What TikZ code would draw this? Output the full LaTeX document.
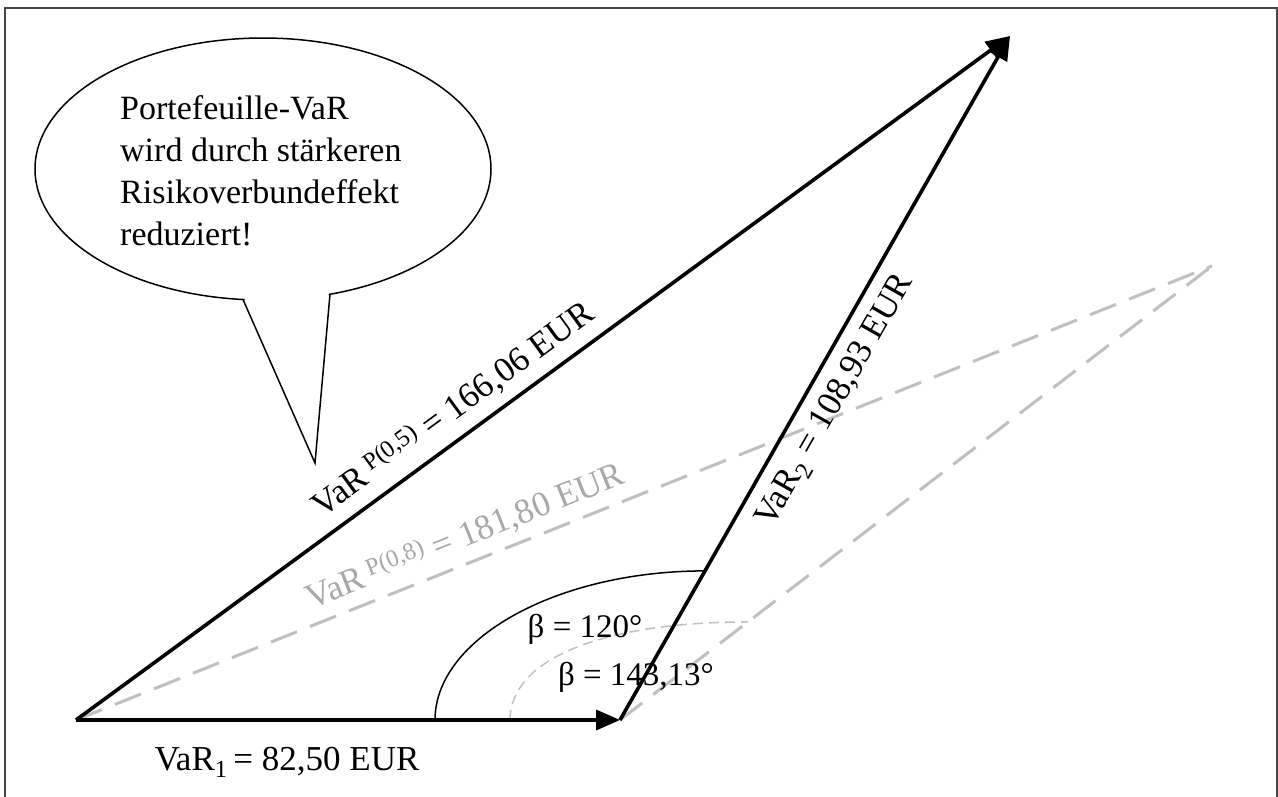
\documentclass[tikz,border=0pt]{standalone}
\usepackage{fontspec}
\setmainfont{Liberation Serif}
\usetikzlibrary{arrows.meta,calc}
\definecolor{dashgray}{RGB}{192,192,192}
\definecolor{textgray}{RGB}{168,168,168}
\definecolor{framegray}{RGB}{70,70,70}
\begin{document}
\begin{tikzpicture}[x=1pt,y=-1pt,
  vec/.style={line width=3.6pt, -{Triangle[length=24pt,width=20pt]}},
  gdash/.style={draw=dashgray, line width=3pt, dash pattern=on 28pt off 14pt},
  angarc/.style={line width=1.5pt},
  gangarc/.style={draw=dashgray, line width=1.5pt, dash pattern=on 10pt off 6pt},
  lab/.style={font=\fontsize{35}{42}\selectfont, inner sep=0pt},
  blab/.style={font=\fontsize{33}{40}\selectfont, inner sep=0pt},
  bubble/.style={line width=1.5pt}
  ]
\useasboundingbox (0,0) rectangle (1278,796);
\fill[white] (0,0) rectangle (1278,796);

% frame
\draw[framegray, line width=2pt] (5,800) -- (5,8) -- (1277,8) -- (1277,800);

% points
\coordinate (A) at (76,720);
\coordinate (B) at (620,720);
\coordinate (C) at (1010,36);
\coordinate (D) at (1212,266);
\coordinate (E1) at ($(B)!0.218!(C)$);
\coordinate (E2) at ($(B)!0.216!(D)$);

% gray (rho = 0.8) triangle
\draw[gdash] (A) -- (D);
\draw[gdash] (B) -- (D);
\draw[gangarc] (510,720) .. controls (510,660) and (600,622) .. (E2);

% angle arc
\draw[angarc] (435,720) .. controls (435,639) and (556,571) .. (E1);

% vectors
\draw[vec] (A) -- (B);
\draw[vec] (B) -- (C);
\draw[vec] (A) -- (C);

% labels
\node[lab, rotate=36.2, anchor=base] (l5) at (459,418) {VaR\,\textsuperscript{P(0,5)} = 166,06 EUR};
\node[lab, text=textgray, rotate=21.8, anchor=base] (l8) at (469,546) {VaR\,\textsuperscript{P(0,8)} = 181,80 EUR};
\node[lab, rotate=60.3, anchor=center] (l2) at (836,401) {VaR\textsubscript{2} = 108,93 EUR};
\node[lab, anchor=base] (l1) at (287,770) {VaR\textsubscript{1}\,= 82,50 EUR};
\node[blab, anchor=base] (b1) at (585,637) {β = 120°};
\node[blab, anchor=base] (b2) at (636,685) {β = 143,13°};

% speech bubble
\draw[bubble, fill=white] (263,169) ellipse [x radius=228pt, y radius=131pt];
\fill[white] (244.5,286) -- (244.5,303) -- (315,463) -- (328.5,300) -- (328.5,286) -- cycle;
\draw[bubble, line join=miter] (243,299.5) -- (315,463) -- (330,294.2);
\node[font=\fontsize{34}{42}\selectfont, align=left, anchor=north west, inner sep=0pt] (bt) at (120,95)
  {Portefeuille-VaR\\wird durch stärkeren\\Risikoverbundeffekt\\reduziert!};
\end{tikzpicture}
\end{document}
